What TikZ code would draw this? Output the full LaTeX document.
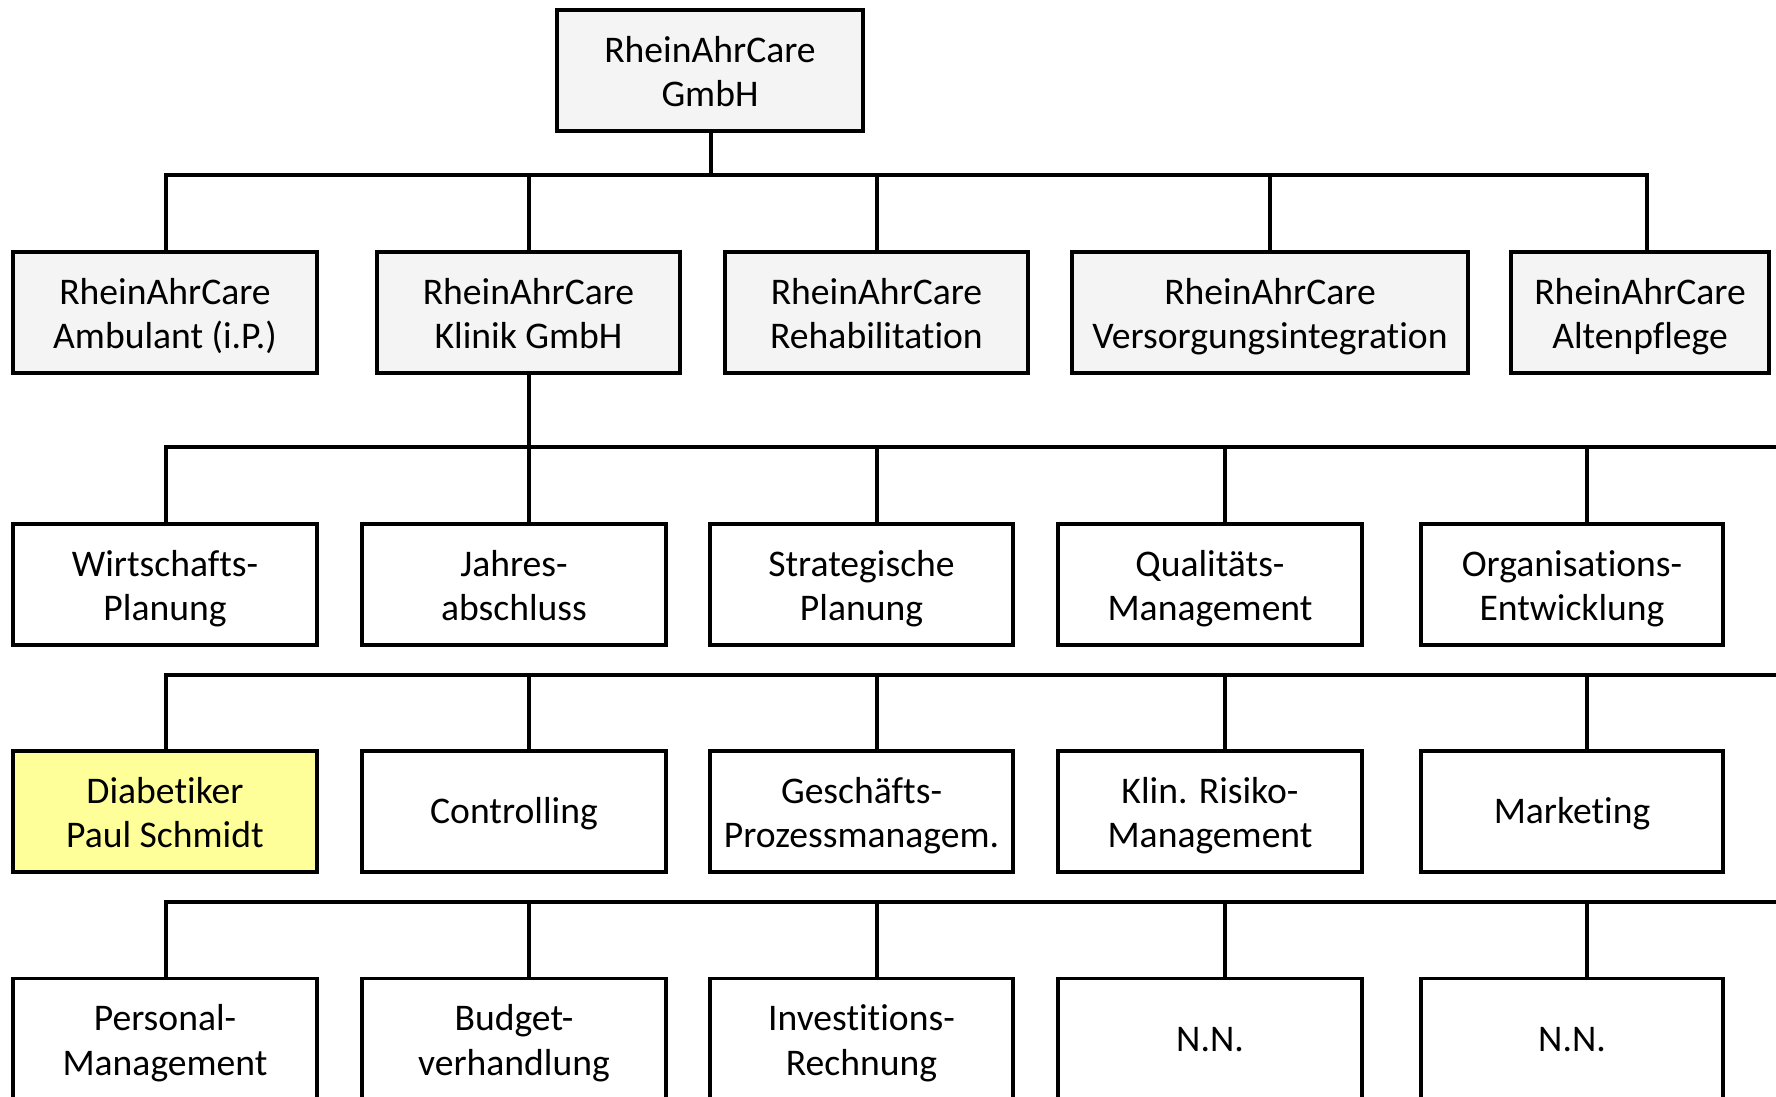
\documentclass[tikz,border=0pt]{standalone}
\usepackage{fontspec}
\setmainfont{Carlito}[Ligatures=NoCommon]
\definecolor{boxgrey}{HTML}{F4F4F4}
\definecolor{boxyellow}{HTML}{FFFF99}
\newcommand\orgfont{\fontsize{10.7}{12.6}\selectfont}
\tikzset{
  orgbox/.style={draw, line width=0.95pt, minimum height=1.21cm, inner sep=0pt,
    align=center, font=\orgfont, fill=white, text height=20.5pt, text depth=0pt},
  oneline/.style={text height=7pt, text depth=0pt},
  greybox/.style={orgbox, fill=boxgrey},
  yellowbox/.style={orgbox, fill=boxyellow},
  wire/.style={line width=0.95pt, line cap=rect}
}
\begin{document}
\begin{tikzpicture}[x=0.01cm, y=-0.01cm]
\useasboundingbox (0,0) rectangle (1776,1096);
\fill[white] (0,0) rectangle (1776,1096);

% top
\node[greybox, minimum width=3.06cm] (top) at (710,70.5) {RheinAhrCare\\GmbH};

% row 1
\node[greybox, minimum width=3.04cm] (r1a) at (165,312.5) {RheinAhrCare\\Ambulant (i.P.)};
\node[greybox, minimum width=3.03cm] (r1b) at (528.5,312.5) {RheinAhrCare\\Klinik GmbH};
\node[greybox, minimum width=3.03cm] (r1c) at (876.5,312.5) {RheinAhrCare\\Rehabilitation};
\node[greybox, minimum width=3.96cm] (r1d) at (1270,312.5) {RheinAhrCare\\Versorgungsintegration};
\node[greybox, minimum width=2.58cm] (r1e) at (1640,312.5) {RheinAhrCare\\Altenpflege};

% row 2
\node[orgbox, minimum width=3.04cm] (r2a) at (165,584.5) {Wirtschafts-\\Planung};
\node[orgbox, minimum width=3.04cm] (r2b) at (514,584.5) {Jahres-\\abschluss};
\node[orgbox, minimum width=3.03cm] (r2c) at (861.5,584.5) {Strategische\\Planung};
\node[orgbox, minimum width=3.04cm] (r2d) at (1210,584.5) {Qualitäts-\\Management};
\node[orgbox, minimum width=3.02cm] (r2e) at (1572,584.5) {Organisations-\\Entwicklung};

% row 3
\node[yellowbox, minimum width=3.04cm] (r3a) at (165,811.5) {Diabetiker\\Paul Schmidt};
\node[orgbox, oneline, minimum width=3.04cm] (r3b) at (514,811.5) {Controlling};
\node[orgbox, minimum width=3.03cm] (r3c) at (861.5,811.5) {Geschäfts-\\Prozessmanagem.};
\node[orgbox, minimum width=3.04cm] (r3d) at (1210,811.5) {Klin. Risiko-\\Management};
\node[orgbox, oneline, minimum width=3.02cm] (r3e) at (1572,811.5) {Marketing};

% row 4
\node[orgbox, minimum width=3.04cm] (r4a) at (165,1039) {Personal-\\Management};
\node[orgbox, minimum width=3.04cm] (r4b) at (514,1039) {Budget-\\verhandlung};
\node[orgbox, minimum width=3.03cm] (r4c) at (861.5,1039) {Investitions-\\Rechnung};
\node[orgbox, oneline, minimum width=3.04cm] (r4d) at (1210,1039) {N.N.};
\node[orgbox, oneline, minimum width=3.02cm] (r4e) at (1572,1039) {N.N.};

% bus coordinates
\coordinate (b1a) at (166,175);
\coordinate (b1b) at (529,175);
\coordinate (b1c) at (877,175);
\coordinate (b1d) at (1270,175);
\coordinate (b1e) at (1647,175);
\coordinate (b1m) at (711,175);
\foreach \r/\y in {2/447,3/675,4/902}{
  \coordinate (b\r a) at (166,\y);
  \coordinate (b\r b) at (529,\y);
  \coordinate (b\r c) at (877,\y);
  \coordinate (b\r d) at (1225,\y);
  \coordinate (b\r e) at (1587,\y);
  \coordinate (b\r z) at (1790,\y);
}

% level 1
\draw[wire] (top.south -| b1m) -- (b1m);
\draw[wire] (b1a) -- (b1e);
\foreach \c in {a,b,c,d,e}{
  \draw[wire] (b1\c) -- (b1\c |- r1\c.north);
}
% level 2
\draw[wire] (r1b.south -| b2b) -- (b2b);
\foreach \r in {2,3,4}{
  \draw[wire] (b\r a) -- (b\r z);
  \foreach \c in {a,b,c,d,e}{
    \draw[wire] (b\r\c) -- (b\r\c |- r\r\c.north);
  }
}
\end{tikzpicture}
\end{document}
